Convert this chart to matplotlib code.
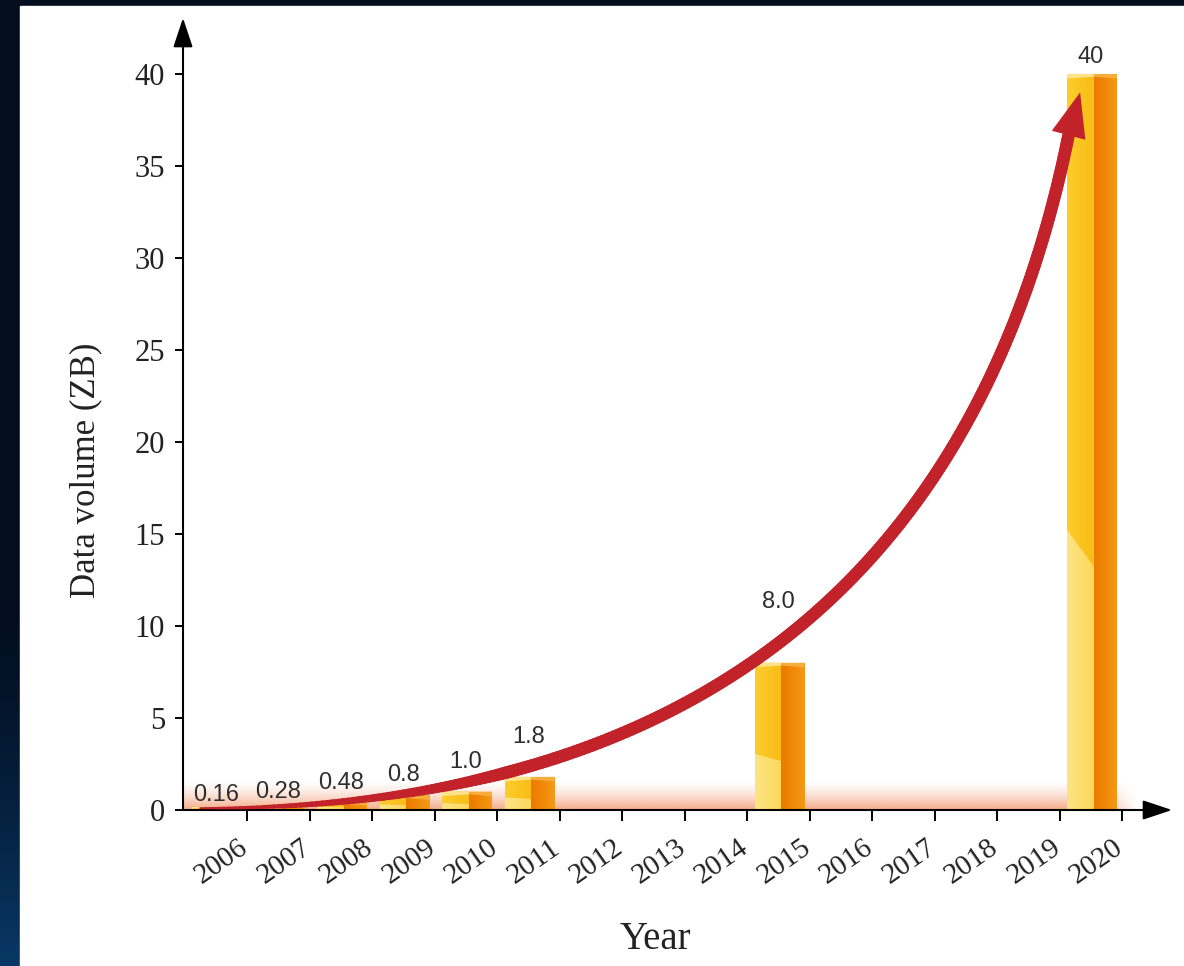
import numpy as np
import matplotlib.pyplot as plt
import matplotlib.colors as mcolors
from matplotlib.patches import Polygon, Rectangle
from matplotlib.collections import LineCollection
from matplotlib.transforms import ScaledTranslation

# data
years = list(range(2006, 2021))
bar_years = [2006, 2007, 2008, 2009, 2010, 2011, 2015, 2020]
volumes = [0.16, 0.28, 0.48, 0.8, 1.0, 1.8, 8.0, 40]
volume_labels = ['0.16', '0.28', '0.48', '0.8', '1.0', '1.8', '8.0', '40']
y_ticks = [0, 5, 10, 15, 20, 25, 30, 35, 40]

# label lift above each bar (px), keeps the numbers clear of the red arrow
label_lift = [12, 13, 18, 20, 30, 40, 61, 17]

RED = '#c2222a'
SERIF = 'Liberation Serif'
SANS = 'Liberation Sans'


def grad_fill(ax, verts, c0, c1, z=3):
    """polygon filled with a left-to-right colour gradient"""
    poly = Polygon(verts, closed=True, facecolor='none', edgecolor='none')
    ax.add_patch(poly)
    xs = [v[0] for v in verts]
    ys = [v[1] for v in verts]
    g = np.linspace(0, 1, 64)[:, None]
    a = np.array(mcolors.to_rgb(c0))
    b = np.array(mcolors.to_rgb(c1))
    img = (a + (b - a) * g)[None, :, :]
    im = ax.imshow(img, extent=[min(xs), max(xs), min(ys), max(ys)],
                   origin='lower', aspect='auto', interpolation='bilinear', zorder=z)
    im.set_clip_path(poly)


fig = plt.figure(figsize=(11.84, 9.66), dpi=100)

# dark blue backdrop + white sheet
bg = fig.add_axes([0, 0, 1, 1], zorder=0)
bg.axis('off')
v = np.linspace(0, 1, 256)[:, None]
top = np.array([2, 13, 30]) / 255
bot = np.array([9, 56, 102]) / 255
w = np.clip((v - 0.6) / 0.4, 0, 1) ** 1.5
shade = top + (bot - top) * w
bg.imshow(shade[:, None, :], extent=[0, 1, 0, 1], aspect='auto', origin='upper')
bg.add_patch(Rectangle((20 / 1184, 0), 1, 960 / 966, color='white', transform=bg.transAxes))
bg.set_xlim(0, 1)
bg.set_ylim(0, 1)

ax = fig.add_axes([183 / 1184, 156 / 966, 989 / 1184, 792 / 966], zorder=1)
ax.set_facecolor('none')

# soft salmon glow along the baseline
gv = np.linspace(0, 1, 64)[:, None]
gh = np.linspace(0, 1, 256)[None, :]
glow = np.zeros((64, 256, 4))
glow[..., 0] = 243 / 255
glow[..., 1] = 155 / 255
glow[..., 2] = 115 / 255
glow[..., 3] = 0.85 * (1 - gv) ** 1.5 * np.clip((1 - gh) / 0.04, 0, 1)
ax.imshow(glow, extent=[-0.52, 14.75, 0, 1.6], origin='lower', aspect='auto', zorder=1)

# 3d-looking bars
for yr, val in zip(bar_years, volumes):
    i = yr - years[0]
    x0, xm, x1 = i - 0.38, i + 0.05, i + 0.42
    sl, sr = 0.38 * val, 0.33 * val
    grad_fill(ax, [(x0, 0), (xm, 0), (xm, sr), (x0, sl)], '#fde585', '#fcd75a')
    grad_fill(ax, [(x0, sl), (xm, sr), (xm, val), (x0, val)], '#fccd2e', '#f9bd14')
    grad_fill(ax, [(xm, 0), (x1, 0), (x1, val), (xm, val)], '#ec7a00', '#f59a14')
    cap = min(0.25, val * 0.5)
    ax.add_patch(Polygon([(x0, val - cap), (xm, val - cap * 0.6), (xm, val), (x0, val)],
                         facecolor='#fde28a', edgecolor='none', zorder=4))
    ax.add_patch(Polygon([(xm, val - cap * 0.6), (x1, val - cap), (x1, val), (xm, val)],
                         facecolor='#f6ad3c', edgecolor='none', zorder=4))

for yr, val, txt, lift in zip(bar_years, volumes, volume_labels, label_lift):
    ax.annotate(txt, xy=(yr - years[0], val), xytext=(0, lift * 0.72),
                textcoords='offset points', ha='center', va='center',
                fontsize=17, family=SANS, color='#2e2e2e', zorder=6)

# red growth arrow (cubic bezier, tapered tail)
ctrl = np.array([[-0.25, 0.1], [9.0, 0.0], [12.5, 17.5], [13.64, 36.6]])
tip = (13.83, 39.0)
t = np.linspace(0, 1, 300)[:, None]
pts = ((1 - t) ** 3 * ctrl[0] + 3 * (1 - t) ** 2 * t * ctrl[1]
       + 3 * (1 - t) * t ** 2 * ctrl[2] + t ** 3 * ctrl[3])
segs = np.stack([pts[:-1], pts[1:]], axis=1)
lw = 1.4 + 7.6 * np.clip(t[:-1, 0] / 0.2, 0, 1)
ax.add_collection(LineCollection(segs, linewidths=lw, colors=RED, capstyle='round', zorder=7))
ax.annotate('', xy=tip, xytext=tuple(pts[-1]),
            arrowprops=dict(facecolor=RED, edgecolor='none', width=8.8,
                            headwidth=25, headlength=32, shrink=0), zorder=8)

# axes drawn as arrows
arrow_kw = dict(arrowstyle='-|>,head_length=0.9,head_width=0.3', color='k', lw=1.5,
                mutation_scale=20, shrinkA=0, shrinkB=0)
ax.annotate('', xy=(0, 1), xytext=(0, 0), xycoords='axes fraction', arrowprops=arrow_kw)
ax.annotate('', xy=(1, 0), xytext=(0, 0), xycoords='axes fraction', arrowprops=arrow_kw)
for s in ax.spines.values():
    s.set_visible(False)

ax.set_xlim(-0.525, 15.3)
ax.set_ylim(0, 43.04)

ax.set_yticks(y_ticks)
ax.set_yticklabels([str(y) for y in y_ticks], family=SERIF, fontsize=22, color='#222222')
ax.tick_params(axis='y', direction='out', length=6, width=1.4, pad=7)

ax.set_xticks(np.arange(len(years)) + 0.5)
ax.set_xticklabels([str(y) for y in years], family=SERIF, fontsize=21, color='#222222',
                   rotation=35, ha='right', va='top', rotation_mode='anchor')
ax.tick_params(axis='x', direction='out', length=8, width=1.4, pad=4)
shift = ScaledTranslation(-0.09, -0.08, fig.dpi_scale_trans)
for lbl in ax.get_xticklabels():
    lbl.set_transform(lbl.get_transform() + shift)

fig.text(655 / 1184, 1 - 949 / 966, 'Year', ha='center', va='baseline',
         family=SERIF, fontsize=28, color='#222222')
fig.text(86 / 1184, 1 - 470 / 966, 'Data volume (ZB)', rotation=90, ha='center', va='center',
         family=SERIF, fontsize=25, color='#222222')

fig.savefig('out.png', dpi=100)
